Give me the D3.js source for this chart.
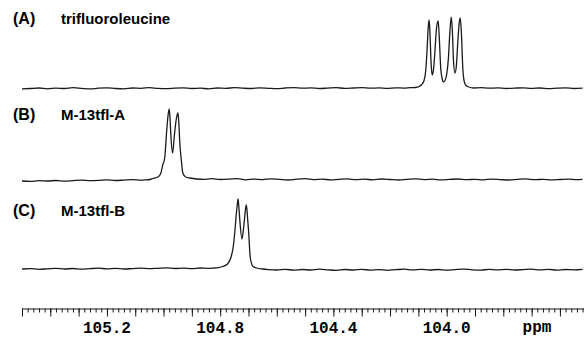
<!DOCTYPE html>
<html>
<head>
<meta charset="utf-8">
<script src="https://cdn.jsdelivr.net/npm/d3@7"></script>
<style>
  html, body { margin: 0; padding: 0; background: #fff; }
  svg { display: block; }
</style>
</head>
<body>
<div id="chart"></div>
<script>
// 19F NMR spectra, [ppm, intensity]
const traceA = [
  [105.50,-0.5],[105.47,0],[105.44,0.5],[105.41,-0.3],[105.38,0.4],[105.35,0],[105.32,0.8],[105.29,0.2],
  [105.26,-0.4],[105.23,0.3],[105.20,0.6],[105.17,0],[105.14,-0.3],[105.11,0.5],[105.08,0.2],[105.05,0.9],
  [105.02,0.1],[104.99,-0.2],[104.96,0.4],[104.93,0.7],[104.90,0],[104.87,0.3],[104.84,-0.3],[104.81,0.5],
  [104.78,0.2],[104.75,0.8],[104.72,0.3],[104.69,0],[104.66,0.6],[104.63,0.2],[104.60,-0.2],[104.57,0.5],
  [104.54,0.9],[104.51,0.3],[104.48,0.6],[104.45,0],[104.42,0.4],[104.39,0.8],[104.36,0.2],[104.33,0.5],
  [104.30,0.9],[104.27,0.3],[104.24,0.6],[104.21,0.2],[104.18,0.7],[104.15,0.4],[104.13,0.8],
  [104.110,1],[104.097,2],[104.088,4],[104.080,8],[104.074,18],[104.069,40],[104.065,62],[104.062,68.5],
  [104.059,55],[104.055,25],[104.051,13.5],[104.047,18],[104.042,35],[104.036,60],[104.030,67.5],
  [104.026,50],[104.021,20],[104.016,10],[104.012,6.5],[104.006,8],[104.000,14],[103.994,30],[103.989,55],
  [103.984,71.5],[103.980,58],[103.976,28],[103.971,15.5],[103.966,22],[103.961,45],[103.956,65],
  [103.952,70.5],[103.948,55],[103.943,20],[103.938,7],[103.932,3],[103.922,1.5],[103.905,0.5],
  [103.88,0.8],[103.85,0.3],[103.82,0.6],[103.79,0],[103.76,0.4],[103.73,0.7],[103.70,0.1],[103.67,0.5],
  [103.64,-0.2],[103.61,0.3],[103.58,0.6],[103.55,0],[103.52,0.3]
];

const traceB = [
  [105.50,0],[105.47,-0.4],[105.44,0.3],[105.41,0],[105.38,0.5],[105.35,-0.2],[105.32,0.4],[105.29,0.9],
  [105.26,0.3],[105.23,0.6],[105.20,1.2],[105.17,0.5],[105.14,0.9],[105.11,1.3],[105.08,0.8],[105.06,1.2],
  [105.048,1.5],[105.038,2.5],[105.020,4],[105.010,7.5],[105.003,16],[104.996,23],[104.989,50],
  [104.984,66],[104.980,72],[104.977,62],[104.974,45],[104.968,28],[104.962,45],[104.955,62],[104.951,67],
  [104.949,68],[104.946,58],[104.943,40],[104.937,20],[104.932,8],[104.922,4],[104.907,3],[104.883,2],
  [104.86,1.6],[104.83,2.3],[104.80,1.5],[104.77,1.8],[104.74,2.4],[104.71,1.2],[104.68,1.9],[104.65,1.4],
  [104.62,2.2],[104.59,1.6],[104.56,1],[104.53,1.8],[104.50,2.3],[104.47,1.4],[104.44,1.9],[104.41,1.1],
  [104.38,1.7],[104.35,2.1],[104.32,1.3],[104.29,1.8],[104.26,1.2],[104.23,2],[104.20,1.5],[104.17,1],
  [104.14,1.7],[104.11,2.2],[104.08,1.4],[104.05,1.8],[104.02,1.1],[103.99,1.6],[103.96,2],[103.93,1.3],
  [103.90,1.7],[103.87,1.2],[103.84,1.9],[103.81,1.4],[103.78,1],[103.75,1.6],[103.72,2.1],[103.69,1.3],
  [103.66,1.7],[103.63,1.1],[103.60,1.5],[103.57,1.9],[103.54,1.3],[103.52,1.6]
];

const traceC = [
  [105.50,0],[105.47,0.4],[105.44,-0.3],[105.41,0.2],[105.38,0.7],[105.35,0],[105.32,0.5],[105.29,-0.2],
  [105.26,0.3],[105.23,0.8],[105.20,0.2],[105.17,0.6],[105.14,0],[105.11,0.4],[105.08,0.9],[105.05,0.3],
  [105.02,0.7],[104.99,1.1],[104.96,0.5],[104.93,0.9],[104.90,0.4],[104.87,1],[104.84,0.6],[104.82,1],
  [104.810,1.2],[104.791,2.5],[104.774,5],[104.761,12.5],[104.754,22],[104.749,35],[104.743,55],
  [104.739,66],[104.737,70],[104.734,62],[104.731,50],[104.723,30],[104.717,42],[104.712,56],[104.708,64],
  [104.705,58],[104.703,50],[104.699,35],[104.694,12],[104.684,2.5],[104.671,1],
  [104.650,0],[104.63,-0.6],[104.60,-1],[104.57,-0.3],[104.54,-1.2],[104.51,-0.5],[104.48,-1],[104.45,-0.2],
  [104.42,-0.8],[104.39,-1.3],[104.36,-0.5],[104.33,-1],[104.30,-0.4],[104.27,-1.1],[104.24,-0.6],
  [104.21,-1.3],[104.18,-0.7],[104.15,-0.2],[104.12,-0.9],[104.09,-0.4],[104.06,-1],[104.03,-0.5],
  [104.00,-1.2],[103.97,-0.6],[103.94,-0.1],[103.91,-0.8],[103.88,-1.1],[103.85,-0.4],[103.82,-0.9],
  [103.79,-0.3],[103.76,-1],[103.73,-0.6],[103.70,-0.2],[103.67,-0.9],[103.64,-0.4],[103.61,-1.1],
  [103.58,-0.5],[103.55,-0.8],[103.52,-0.3]
];

const panelTags = ["(A)", "(B)", "(C)"];
const panelNames = ["trifluoroleucine", "M-13tfl-A", "M-13tfl-B"];
const axisLabels = [105.2, 104.8, 104.4, 104.0];
const axisUnit = "ppm";

const width = 584;
const height = 337;
const axisY = 308.5;

// panel baselines and label rows (pixels)
const panels = [
  {data: traceA, base: 88.5, labelY: 24},
  {data: traceB, base: 181, labelY: 120},
  {data: traceC, base: 269, labelY: 216}
];

const svg = d3.select("#chart")
  .append("svg")
  .attr("width", width)
  .attr("height", height);

// ppm runs right to left
const x = d3.scaleLinear()
  .domain([105.5, 103.515])
  .range([22, 584]);

const line = d3.line().curve(d3.curveMonotoneX);

panels.forEach((p, i) => {
  const y = d3.scaleLinear()
    .domain([0, 100])
    .range([p.base, p.base - 100]);

  svg.append("path")
    .datum(p.data)
    .attr("fill", "none")
    .attr("stroke", "#1a1a1a")
    .attr("stroke-width", 1.3)
    .attr("stroke-linejoin", "round")
    .attr("d", line.x(d => x(d[0])).y(d => y(d[1])));

  svg.append("text")
    .attr("x", 13)
    .attr("y", p.labelY)
    .style("font-family", "'Liberation Sans', Arial, sans-serif")
    .style("font-weight", "bold")
    .style("font-size", "16px")
    .text(panelTags[i]);

  svg.append("text")
    .attr("x", 61)
    .attr("y", p.labelY)
    .style("font-family", "'Liberation Sans', Arial, sans-serif")
    .style("font-weight", "bold")
    .style("font-size", "15px")
    .text(panelNames[i]);
});

// minor ticks every 0.02 ppm, major every 0.1 ppm
const minorAxis = d3.axisBottom(x)
  .tickValues(x.ticks(100))
  .tickSize(4)
  .tickSizeOuter(0)
  .tickFormat("");

const majorAxis = d3.axisBottom(x)
  .tickValues(x.ticks(20))
  .tickSize(8)
  .tickSizeOuter(0)
  .tickFormat("");

const gMinor = svg.append("g")
  .attr("transform", "translate(0," + axisY + ")")
  .call(minorAxis);

const gMajor = svg.append("g")
  .attr("transform", "translate(0," + axisY + ")")
  .call(majorAxis);
gMajor.select(".domain").remove();

svg.selectAll(".tick line").attr("stroke", "#1a1a1a");
gMinor.select(".domain").attr("stroke", "#1a1a1a");

svg.selectAll(".axis-label")
  .data(axisLabels)
  .enter()
  .append("text")
  .attr("class", "axis-label")
  .attr("x", d => x(d))
  .attr("y", 333)
  .attr("text-anchor", "middle")
  .style("font-family", "'Liberation Mono', 'Courier New', monospace")
  .style("font-weight", "bold")
  .style("font-size", "16px")
  .text(d => d.toFixed(1));

svg.append("text")
  .attr("x", 537)
  .attr("y", 332)
  .attr("text-anchor", "middle")
  .style("font-family", "'Liberation Mono', 'Courier New', monospace")
  .style("font-weight", "bold")
  .style("font-size", "16px")
  .text(axisUnit);
</script>
</body>
</html>
